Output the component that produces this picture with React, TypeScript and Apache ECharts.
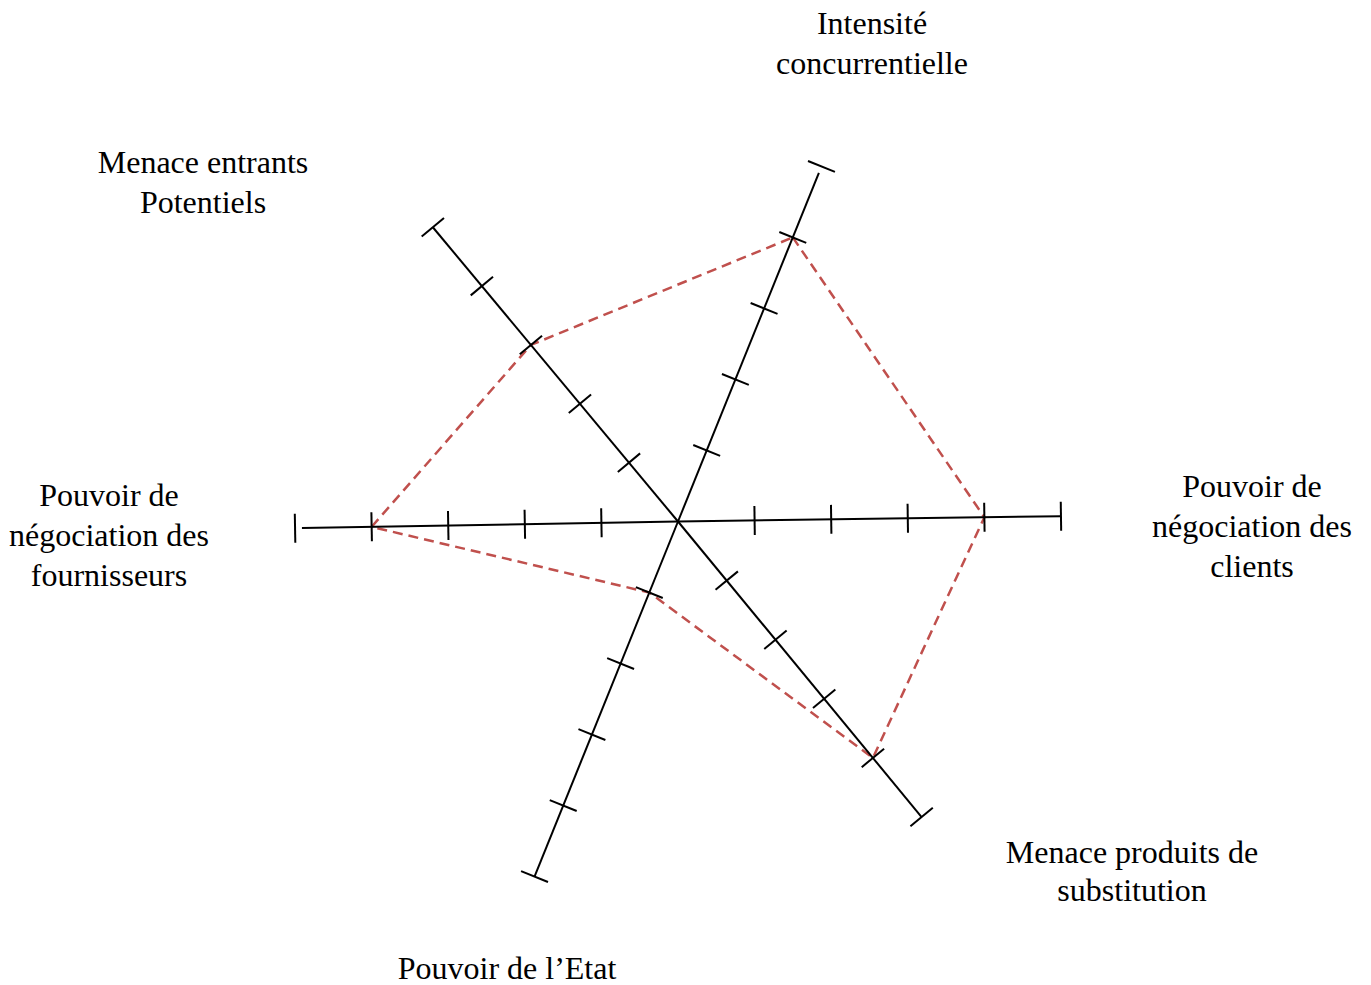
import React, { useEffect, useRef } from "react";
import * as echarts from "echarts";

// Five forces (plus the State) rated on a 0–5 scale, drawn on hand-placed axes.
const AXIS_NAMES = [
  "Intensité\nconcurrentielle",
  "Pouvoir de\nnégociation des\nclients",
  "Menace produits de\nsubstitution",
  "Pouvoir de l\u2019Etat",
  "Pouvoir de\nnégociation des\nfournisseurs",
  "Menace entrants\nPotentiels",
];
// Direction of each half-axis, degrees counter-clockwise from east.
const AXIS_ANGLES = [68, 0.8, 309.5, 248, 181, 129.8];
// How far each half-axis line runs (the end tick always sits at SCALE_MAX).
const AXIS_REACH = [4.91, 5, 5, 5, 4.91, 5];
const SCORES = [4, 4, 4, 1, 4, 3];
const TICK_VALUES = [1, 2, 3, 4, 5];
const SCALE_MAX = 5;

// Label anchors (centre of each text block) and line spacing.
const LABEL_POS: [number, number, number][] = [
  [872, 43, 40],
  [1252, 526, 40],
  [1132, 871, 38],
  [507, 968, 40],
  [109, 535, 40],
  [203, 182, 40],
];

const FONT = '"Liberation Serif", "Times New Roman", serif';

export default function App() {
  const ref = useRef<HTMLDivElement>(null);

  useEffect(() => {
    if (!ref.current) return;
    const chart = echarts.init(ref.current, null, { renderer: "svg" });

    const axisSeries = AXIS_ANGLES.map((a, i) => ({
      type: "line",
      coordinateSystem: "polar",
      symbol: "none",
      silent: true,
      z: 3,
      lineStyle: { color: "#000", width: 2 },
      data: [
        [0, a],
        [AXIS_REACH[i], a],
      ],
    }));

    const tickData: number[][] = [];
    AXIS_ANGLES.forEach((a) => TICK_VALUES.forEach((t) => tickData.push([t, a])));

    const scoreData = SCORES.map((s, i) => [s, AXIS_ANGLES[i]]);
    scoreData.push(scoreData[0]);

    chart.setOption({
      animation: false,
      backgroundColor: "#fff",
      polar: { center: [678, 521.5], radius: 383 },
      angleAxis: {
        type: "value",
        min: 0,
        max: 360,
        startAngle: 0,
        clockwise: false,
        show: false,
      },
      radiusAxis: { type: "value", min: 0, max: SCALE_MAX, show: false },
      series: [
        {
          type: "line",
          coordinateSystem: "polar",
          symbol: "none",
          silent: true,
          z: 2,
          lineStyle: { color: "#C0504D", width: 2.5, type: [10, 6] },
          data: scoreData,
        },
        ...axisSeries,
        {
          type: "custom",
          coordinateSystem: "polar",
          silent: true,
          z: 4,
          data: tickData,
          renderItem: (params: any, api: any) => {
            const r = api.value(0);
            const a = api.value(1);
            const p = api.coord([r, a]);
            const q = api.coord([r - 0.5, a]);
            const dx = q[0] - p[0];
            const dy = q[1] - p[1];
            const len = Math.hypot(dx, dy) || 1;
            const nx = -dy / len;
            const ny = dx / len;
            const half = 14.5;
            return {
              type: "line",
              shape: {
                x1: p[0] - nx * half,
                y1: p[1] - ny * half,
                x2: p[0] + nx * half,
                y2: p[1] + ny * half,
              },
              style: { stroke: "#000", lineWidth: 2 },
            };
          },
        },
      ],
      graphic: AXIS_NAMES.map((name, i) => ({
        type: "text",
        x: LABEL_POS[i][0],
        y: LABEL_POS[i][1],
        style: {
          text: name,
          align: "center",
          verticalAlign: "middle",
          fontFamily: FONT,
          fontSize: 32,
          lineHeight: LABEL_POS[i][2],
          fill: "#000",
        },
      })),
    });

    return () => chart.dispose();
  }, []);

  return (
    <div
      ref={ref}
      style={{ position: "absolute", left: 0, top: 0, width: 1371, height: 985 }}
    />
  );
}
